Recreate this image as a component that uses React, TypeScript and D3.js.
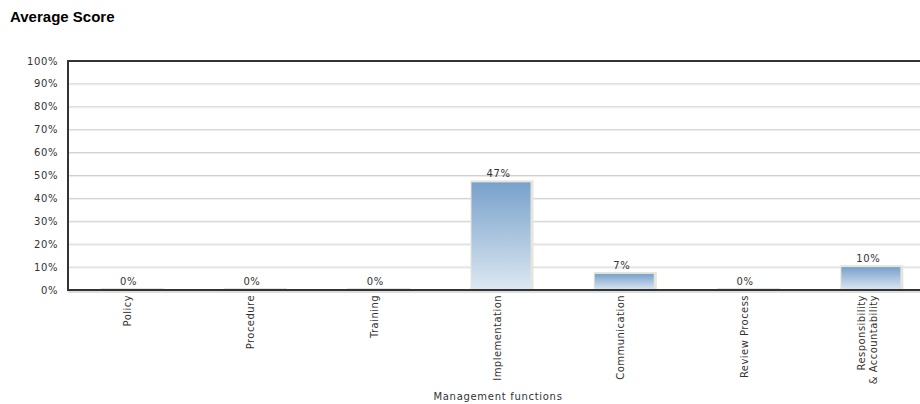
import React from "react";
import * as d3 from "d3";

const categories: string[][] = [
  ["Policy"],
  ["Procedure"],
  ["Training"],
  ["Implementation"],
  ["Communication"],
  ["Review Process"],
  ["Responsibility", "& Accountability"],
];
const scores: number[] = [0, 0, 0, 47, 7, 0, 10];
const yTicks: number[] = [0, 10, 20, 30, 40, 50, 60, 70, 80, 90, 100];

const W = 920;
const H = 404;
const M = { left: 68, top: 61, bottom: 290, right: 931 };
const FONT = "'DejaVu Sans', Verdana, sans-serif";

export default function App() {
  const x = d3
    .scaleBand<number>()
    .domain(categories.map((_, i) => i))
    .range([M.left, M.right])
    .paddingInner(0)
    .paddingOuter(0);
  const y = d3.scaleLinear().domain([0, 100]).range([M.bottom, M.top]);
  const step = x.step();
  const c = (i: number) => (x(i) as number) + step / 2;

  return (
    <svg
      width={W}
      height={H}
      style={{ position: "absolute", left: 0, top: 0, background: "#fff" }}
    >
      <defs>
        <linearGradient id="barGrad" x1="0" y1="0" x2="0" y2="1">
          <stop offset="0%" stopColor="#78a1cb" />
          <stop offset="100%" stopColor="#dde8f2" />
        </linearGradient>
      </defs>
      <text
        x={10}
        y={22}
        fontFamily="'Liberation Sans', Arial, sans-serif"
        fontWeight="bold"
        fontSize={15}
        fill="#000"
      >
        Average Score
      </text>

      {/* gridlines */}
      {yTicks.slice(1, -1).map((t) => (
        <g key={"g" + t}>
          <line x1={M.left} x2={W} y1={y(t)} y2={y(t)} stroke="#cfcfcf" strokeWidth={1} />
          <line x1={M.left} x2={W} y1={y(t) + 1} y2={y(t) + 1} stroke="#ececec" strokeWidth={1} />
        </g>
      ))}

      {/* y tick labels */}
      {yTicks.map((t) => (
        <text
          key={"t" + t}
          x={58}
          y={y(t)}
          dy="0.35em"
          textAnchor="end"
          fontFamily={FONT}
          fontSize={10}
          letterSpacing={0.6}
          fill="#333"
        >
          {t}%
        </text>
      ))}

      {/* bars */}
      {scores.map((v, i) => {
        const bx = c(i) - 28;
        const bw = 59;
        const top = y(v);
        return (
          <g key={"b" + i}>
            <rect
              x={bx - 1}
              y={top - 2}
              width={bw + 4}
              height={M.bottom - top + 2}
              fill="#e4e5dc"
            />
            {v > 0 && (
              <rect x={bx} y={top} width={bw} height={M.bottom - top} fill="url(#barGrad)" />
            )}
            <text
              x={c(i) - 1}
              y={top - 5}
              textAnchor="middle"
              fontFamily={FONT}
              fontSize={10}
              letterSpacing={0.6}
              fill="#333"
            >
              {v}%
            </text>
          </g>
        );
      })}

      {/* axes frame */}
      <line x1={M.left} x2={W} y1={M.top} y2={M.top} stroke="#333" strokeWidth={2} />
      <line x1={M.left} x2={W} y1={M.bottom} y2={M.bottom} stroke="#333" strokeWidth={2} />
      <line x1={M.left} x2={W} y1={M.bottom + 2} y2={M.bottom + 2} stroke="#bbb" strokeWidth={1} />
      <line x1={M.left} x2={M.left} y1={M.top - 1} y2={M.bottom + 1} stroke="#333" strokeWidth={2} />

      {/* x labels */}
      {categories.map((lines, i) => {
        const n = lines.length;
        return (
          <g key={"x" + i}>
            {lines.map((ln, j) => {
              const lx = c(i) - 2 + (j - (n - 1) / 2) * 12;
              return (
                <text
                  key={j}
                  transform={`translate(${lx},295) rotate(-90)`}
                  dy="0.35em"
                  textAnchor="end"
                  fontFamily={FONT}
                  fontSize={10}
                  letterSpacing={0.45}
                  fill="#333"
                >
                  {ln}
                </text>
              );
            })}
          </g>
        );
      })}

      <text
        x={498}
        y={400}
        textAnchor="middle"
        fontFamily={FONT}
        fontSize={10}
        letterSpacing={0.7}
        fill="#333"
      >
        Management functions
      </text>
    </svg>
  );
}
